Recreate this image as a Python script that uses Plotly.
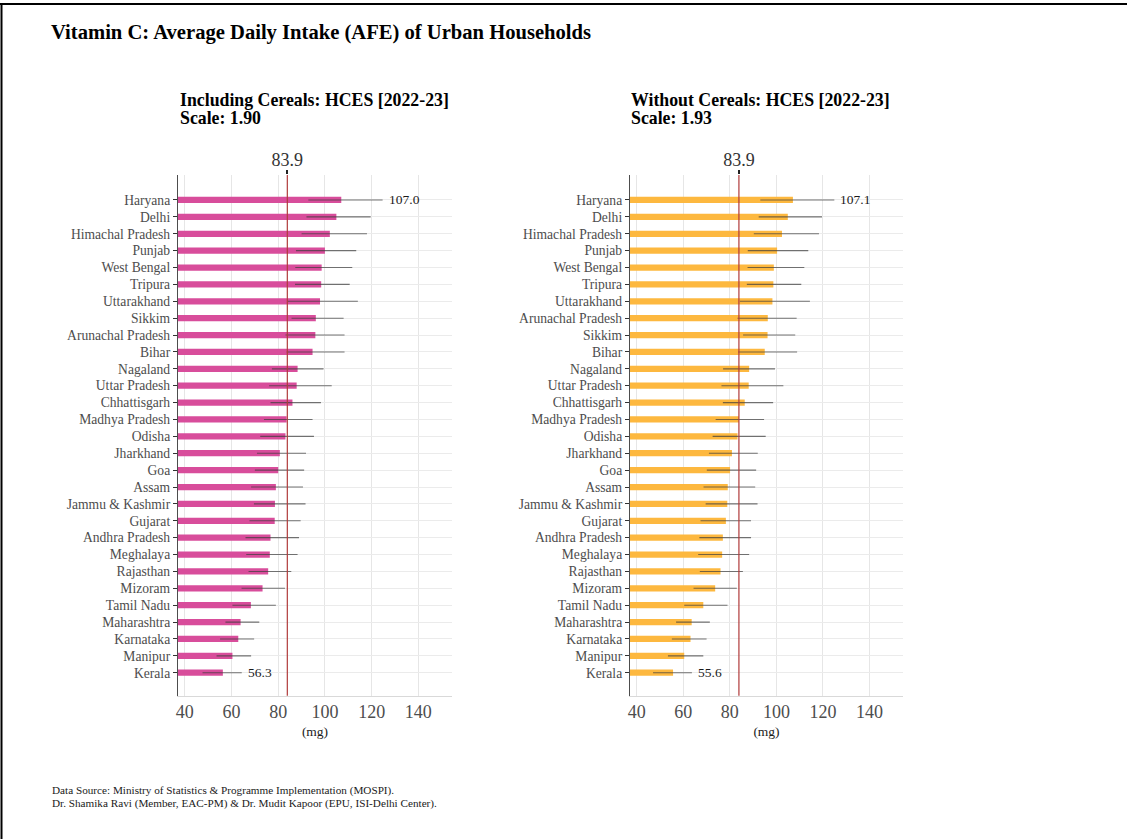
import plotly.graph_objects as go

# ---------------- data ----------------
states_left = ["Haryana", "Delhi", "Himachal Pradesh", "Punjab", "West Bengal", "Tripura",
               "Uttarakhand", "Sikkim", "Arunachal Pradesh", "Bihar", "Nagaland", "Uttar Pradesh",
               "Chhattisgarh", "Madhya Pradesh", "Odisha", "Jharkhand", "Goa", "Assam",
               "Jammu & Kashmir", "Gujarat", "Andhra Pradesh", "Meghalaya", "Rajasthan",
               "Mizoram", "Tamil Nadu", "Maharashtra", "Karnataka", "Manipur", "Kerala"]
mean_left = [107.0, 104.9, 102.1, 100.0, 98.6, 98.4, 97.9, 96.1, 95.9, 94.7, 88.3, 87.9,
             86.1, 83.6, 83.1, 80.7, 80.0, 79.0, 78.6, 78.5, 76.7, 76.4, 75.7, 73.3, 68.3,
             63.9, 62.9, 60.4, 56.3]
low_left = [92.9, 92.1, 90.0, 87.6, 87.3, 87.2, 84.0, 85.7, 83.1, 83.6, 77.3, 76.1,
            76.7, 73.9, 72.3, 70.9, 70.0, 68.4, 69.6, 67.7, 66.0, 66.3, 67.3, 64.3, 60.4,
            57.4, 55.1, 53.6, 47.6]
high_left = [124.7, 119.6, 118.0, 113.4, 111.7, 110.6, 114.1, 108.0, 108.4, 108.4, 99.4, 102.9,
             98.3, 94.7, 95.3, 91.9, 91.1, 90.6, 91.7, 89.6, 88.9, 88.3, 85.6, 82.9, 79.0,
             71.9, 69.7, 68.4, 64.4]

states_right = ["Haryana", "Delhi", "Himachal Pradesh", "Punjab", "West Bengal", "Tripura",
                "Uttarakhand", "Arunachal Pradesh", "Sikkim", "Bihar", "Nagaland", "Uttar Pradesh",
                "Chhattisgarh", "Madhya Pradesh", "Odisha", "Jharkhand", "Goa", "Assam",
                "Jammu & Kashmir", "Gujarat", "Andhra Pradesh", "Meghalaya", "Rajasthan",
                "Mizoram", "Tamil Nadu", "Maharashtra", "Karnataka", "Manipur", "Kerala"]
mean_right = [107.1, 104.9, 102.4, 100.3, 98.9, 98.7, 98.3, 96.3, 96.2, 95.0, 88.3, 88.1,
              86.4, 83.9, 83.3, 80.9, 80.1, 79.1, 78.9, 78.3, 77.0, 76.7, 76.0, 73.7, 68.6,
              63.6, 63.1, 60.4, 55.6]
low_right = [93.1, 92.4, 90.3, 87.7, 87.6, 87.3, 84.3, 83.3, 85.7, 83.6, 77.1, 76.4,
             77.0, 73.9, 72.6, 71.0, 70.1, 68.7, 69.6, 67.4, 66.9, 66.4, 67.1, 64.4, 60.4,
             56.9, 55.1, 53.4, 47.0]
high_right = [124.9, 119.6, 118.3, 113.7, 112.0, 110.7, 114.4, 108.7, 108.1, 108.9, 99.4, 103.0,
              98.6, 94.7, 95.4, 92.0, 91.3, 90.9, 91.9, 89.1, 89.1, 88.3, 85.6, 83.0, 79.0,
              71.4, 70.0, 68.6, 63.7]

national_avg = 83.9
x_ticks = [40, 60, 80, 100, 120, 140]

title_text = "Vitamin C: Average Daily Intake (AFE) of Urban Households"
sub_left = ["Including Cereals: HCES [2022-23]", "Scale: 1.90"]
sub_right = ["Without Cereals: HCES [2022-23]", "Scale: 1.93"]
footer = ["Data Source: Ministry of Statistics & Programme Implementation (MOSPI).",
          "Dr. Shamika Ravi (Member, EAC-PM) & Dr. Mudit Kapoor (EPU, ISI-Delhi Center)."]

# ---------------- styling ----------------
W, H = 1127, 839
SERIF = "Liberation Serif, Times New Roman, serif"
PINK = "#D84D9B"
ORANGE = "#FDB83F"
XR = [37.1, 154.4]

def px_x(p):
    return p / W

def px_y(p):
    return 1 - p / H

dom_left = [px_x(178), px_x(452)]
dom_right = [px_x(630), px_x(903)]
dom_y = [px_y(695.7), px_y(175)]

fig = go.Figure()

panels = [
    (states_left, mean_left, low_left, high_left, PINK, "x", "y", "x3"),
    (states_right, mean_right, low_right, high_right, ORANGE, "x2", "y2", "x4"),
]

for states, mean, low, high, col, xa, ya, xt in panels:
    fig.add_trace(go.Bar(
        x=mean, y=states, orientation="h", xaxis=xa, yaxis=ya,
        marker=dict(color=col, line=dict(width=0)), width=0.37,
        error_x=dict(type="data", symmetric=False,
                     array=[h - m for h, m in zip(high, mean)],
                     arrayminus=[m - l for m, l in zip(mean, low)],
                     color="rgba(60,60,60,0.7)", thickness=1.1, width=0),
        showlegend=False, hoverinfo="x+y",
    ))
    # invisible trace for the top axis carrying the national average tick
    fig.add_trace(go.Scatter(x=[national_avg], y=[states[0]], xaxis=xt, yaxis=ya,
                             mode="markers", marker=dict(opacity=0), showlegend=False,
                             hoverinfo="skip"))
    # national average line
    fig.add_shape(type="line", xref=xa, yref=f"{ya} domain", x0=national_avg, x1=national_avg,
                  y0=0, y1=1, line=dict(color="#B03A3A", width=1.2), layer="above")
    # value labels at top and bottom
    for i in (0, len(states) - 1):
        fig.add_annotation(x=high[i], y=states[i], xref=xa, yref=ya, text=f"{mean[i]:.1f}",
                           showarrow=False, xanchor="left", xshift=4,
                           font=dict(family=SERIF, size=13.5, color="#1a1a1a"))

def xaxis_cfg(domain, anchor):
    return dict(domain=domain, anchor=anchor, range=XR, tickvals=x_ticks,
                showgrid=True, gridcolor="#e6e6e6", gridwidth=1, zeroline=False,
                showline=True, linecolor="#d9d9d9", linewidth=1, ticks="",
                tickfont=dict(family=SERIF, size=18, color="#4d4d4d"),
                title=dict(text="(mg)", font=dict(family=SERIF, size=13.5, color="#1a1a1a"), standoff=5),
                automargin=False, fixedrange=True)

def yaxis_cfg(anchor, states):
    return dict(domain=dom_y, anchor=anchor, type="category",
                categoryorder="array", categoryarray=list(reversed(states)),
                range=[-1.36, 29.48], showgrid=True, gridcolor="#ebebeb", gridwidth=1,
                showline=True, linecolor="#4d4d4d", linewidth=1.2, ticks="outside",
                ticklen=4, tickcolor="#333333", tickwidth=1.2,
                tickfont=dict(family=SERIF, size=13.6, color="#4d4d4d"),
                automargin=False, fixedrange=True)

def topaxis_cfg(over):
    return dict(overlaying=over, side="top", range=XR, tickvals=[national_avg],
                ticktext=[f"{national_avg:.1f}"], showgrid=False, zeroline=False, showline=False,
                ticks="outside", ticklen=4, tickcolor="#222222", tickwidth=1.5,
                ticklabelstandoff=-3,
                tickfont=dict(family=SERIF, size=18, color="#333333"),
                automargin=False, fixedrange=True)

fig.update_layout(
    width=W, height=H, margin=dict(l=0, r=0, t=0, b=0),
    paper_bgcolor="white", plot_bgcolor="white",
    bargap=0.6, showlegend=False,
    xaxis=xaxis_cfg(dom_left, "y"),
    xaxis2=xaxis_cfg(dom_right, "y2"),
    yaxis=yaxis_cfg("x", states_left),
    yaxis2=yaxis_cfg("x2", states_right),
    xaxis3=topaxis_cfg("x"),
    xaxis4=topaxis_cfg("x2"),
)
fig.layout.xaxis3.anchor = "y"
fig.layout.xaxis4.anchor = "y2"

# titles & notes
fig.add_annotation(x=px_x(49), y=px_y(33), xref="paper", yref="paper", text=f"<b>{title_text}</b>",
                   showarrow=False, xanchor="left", yanchor="middle",
                   font=dict(family=SERIF, size=20.6, color="#000000"))
for xp, lines in ((178, sub_left), (629, sub_right)):
    for yp, txt in zip((100, 118), lines):
        fig.add_annotation(x=px_x(xp), y=px_y(yp), xref="paper", yref="paper", text=f"<b>{txt}</b>",
                           showarrow=False, xanchor="left", yanchor="middle", align="left",
                           font=dict(family=SERIF, size=17.8, color="#000000"))
for yp, txt in zip((790, 803), footer):
    fig.add_annotation(x=px_x(50), y=px_y(yp), xref="paper", yref="paper", text=txt,
                       showarrow=False, xanchor="left", yanchor="middle", align="left",
                       font=dict(family=SERIF, size=11.2, color="#1a1a1a"))

# outer frame lines (top and left)
fig.add_shape(type="line", xref="paper", yref="paper", x0=0, x1=1, y0=px_y(4), y1=px_y(4),
              line=dict(color="#000000", width=2))
fig.add_shape(type="line", xref="paper", yref="paper", x0=px_x(1.5), x1=px_x(1.5), y0=0, y1=px_y(4),
              line=dict(color="#000000", width=2))

fig.write_html("out.html", config={"displayModeBar": False},
               post_script="document.body.style.margin='0';document.body.style.overflow='hidden';")
